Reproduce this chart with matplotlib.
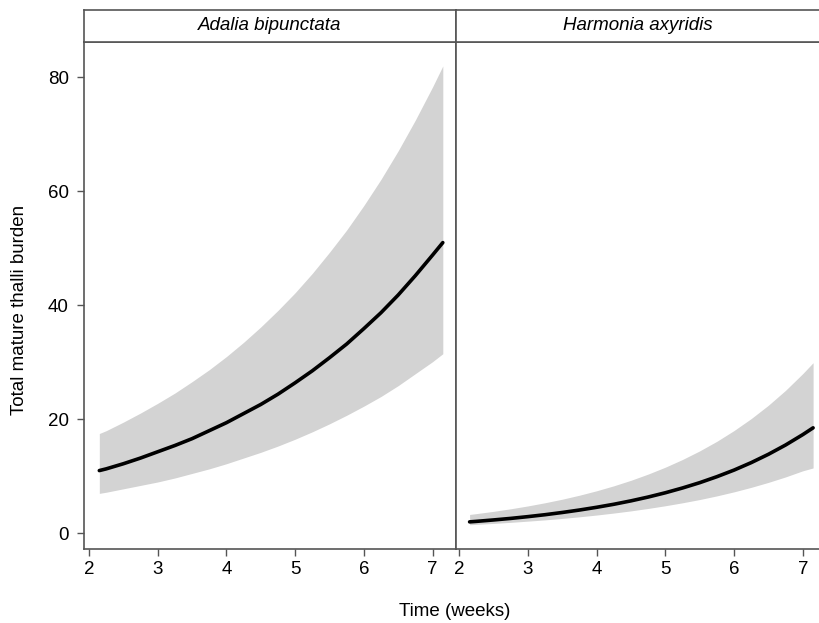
import matplotlib
matplotlib.use("Agg")
import matplotlib.pyplot as plt

plt.rcParams['font.family'] = ['Liberation Sans', 'DejaVu Sans']

weeks = [2.15, 2.25, 2.5, 2.75, 3, 3.25, 3.5, 3.75, 4, 4.25, 4.5, 4.75,
         5, 5.25, 5.5, 5.75, 6, 6.25, 6.5, 6.75, 7, 7.15]

species = ["Adalia bipunctata", "Harmonia axyridis"]

# Adalia bipunctata: fitted mean and confidence band
adalia_mean = [11.0, 11.3, 12.2, 13.2, 14.3, 15.4, 16.6, 18.0, 19.4, 21.0, 22.6,
               24.4, 26.4, 28.5, 30.8, 33.2, 35.9, 38.7, 41.8, 45.2, 48.8, 51.0]
adalia_upper = [17.5, 18.0, 19.5, 21.1, 22.8, 24.6, 26.6, 28.7, 31.0, 33.5, 36.2,
                39.1, 42.2, 45.6, 49.3, 53.2, 57.5, 62.1, 67.1, 72.5, 78.3, 82.0]
adalia_lower = [7.0, 7.2, 7.8, 8.4, 9.0, 9.7, 10.5, 11.3, 12.2, 13.2, 14.2,
                15.3, 16.5, 17.8, 19.2, 20.7, 22.3, 24.0, 25.9, 28.0, 30.1, 31.5]

# Harmonia axyridis
harmonia_mean = [2.0, 2.09, 2.34, 2.61, 2.92, 3.26, 3.65, 4.08, 4.56, 5.09, 5.69,
                 6.36, 7.11, 7.95, 8.88, 9.93, 11.09, 12.40, 13.86, 15.49, 17.31, 18.5]
harmonia_upper = [3.3, 3.45, 3.85, 4.30, 4.80, 5.36, 5.98, 6.68, 7.46, 8.33, 9.30,
                  10.39, 11.60, 12.95, 14.46, 16.14, 18.03, 20.13, 22.47, 25.09, 28.02, 29.93]
harmonia_lower = [1.5, 1.56, 1.73, 1.92, 2.13, 2.35, 2.61, 2.89, 3.20, 3.55, 3.93,
                  4.36, 4.83, 5.35, 5.92, 6.56, 7.27, 8.06, 8.93, 9.89, 10.96, 11.46]

x_ticks = [2, 3, 4, 5, 6, 7]
y_ticks = [0, 20, 40, 60, 80]

W, H = 819, 623
fig = plt.figure(figsize=(W / 100, H / 100), dpi=100)

edge = '#555555'
band = '#d3d3d3'
fs = 13.5


def fig_box(x0, y0, x1, y1):
    # pixel box (top-left origin) -> figure fraction rect
    return [x0 / W, 1 - y1 / H, (x1 - x0) / W, (y1 - y0) / H]


panels = [
    (species[0], adalia_mean, adalia_lower, adalia_upper, (84, 456), (1.927, 7.342)),
    (species[1], harmonia_mean, harmonia_lower, harmonia_upper, (456, 819), (1.952, 7.236)),
]

for i, (name, mean, lower, upper, (px0, px1), xlim) in enumerate(panels):
    ax = fig.add_axes(fig_box(px0, 42, px1, 549))
    ax.fill_between(weeks, lower, upper, color=band, linewidth=0)
    ax.plot(weeks, mean, color='black', linewidth=2.6, solid_capstyle='round')
    ax.set_xlim(*xlim)
    ax.set_ylim(-2.76, 86.2)
    ax.set_xticks(x_ticks)
    ax.set_xticklabels([str(t) for t in x_ticks], fontsize=fs)
    ax.tick_params(axis='x', length=5, width=1, color=edge, pad=4)
    if i == 0:
        ax.set_yticks(y_ticks)
        ax.set_yticklabels([str(t) for t in y_ticks], fontsize=fs)
        ax.tick_params(axis='y', length=5, width=1, color=edge, pad=6)
    else:
        ax.set_yticks([])
    for s in ax.spines.values():
        s.set_color(edge)
        s.set_linewidth(1.2)
    if i == 1:
        ax.spines['right'].set_visible(False)

    # strip header
    st = fig.add_axes(fig_box(px0, 10, px1, 42))
    st.set_xticks([])
    st.set_yticks([])
    for s in st.spines.values():
        s.set_color(edge)
        s.set_linewidth(1.2)
    if i == 1:
        st.spines['right'].set_visible(False)
    st.text(0.5, 0.5, name, transform=st.transAxes, ha='center', va='center',
            fontsize=fs, style='italic')

fig.text(20 / W, 1 - 310 / H, "Total mature thalli burden", rotation=90,
         ha='center', va='center', fontsize=fs)
fig.text(455 / W, 1 - 611 / H, "Time (weeks)", ha='center', va='center', fontsize=fs)

fig.savefig("out.png", dpi=100)
